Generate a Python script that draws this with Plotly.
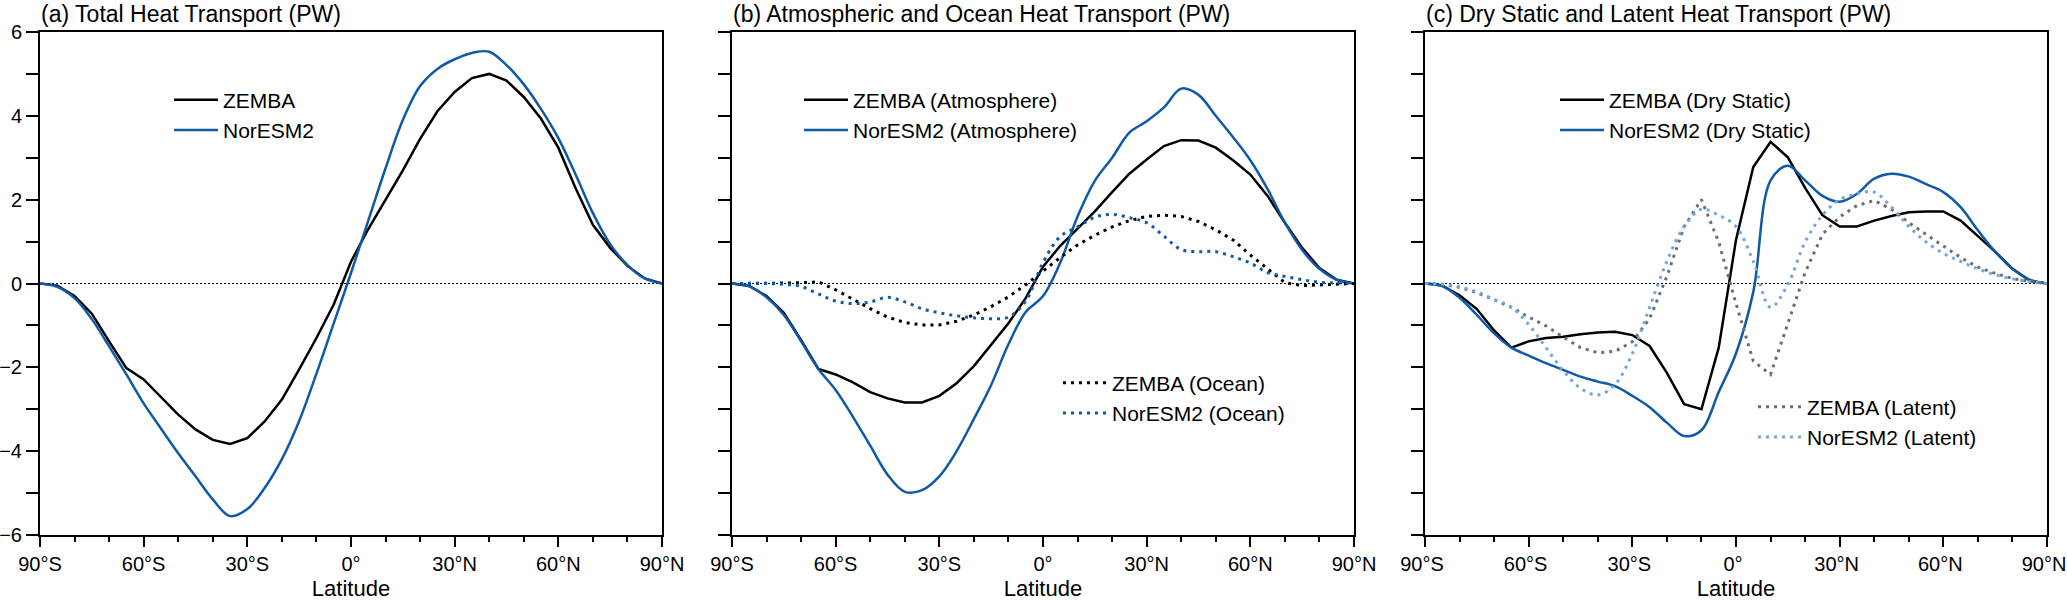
import plotly.graph_objects as go

# Latitude grid (5 degree) and tick labels
lat = list(range(-90, 95, 5))
lat_ticks = [-90, -60, -30, 0, 30, 60, 90]
lat_labels = ["90°S", "60°S", "30°S", "0°", "30°N", "60°N", "90°N"]

# (a) total heat transport (PW)
zemba_total = [0, -0.05, -0.3, -0.72, -1.38, -2.02, -2.29, -2.72, -3.13, -3.48, -3.73, -3.83,
               -3.69, -3.29, -2.77, -2.05, -1.3, -0.5, 0.52, 1.3, 2.0, 2.7, 3.45, 4.11, 4.57,
               4.9, 5.0, 4.84, 4.45, 3.93, 3.24, 2.27, 1.4, 0.85, 0.42, 0.12, 0]
noresm_total = [0, -0.08, -0.35, -0.85, -1.5, -2.17, -2.86, -3.46, -4.05, -4.6, -5.15, -5.55,
                -5.38, -4.88, -4.19, -3.28, -2.15, -0.95, 0.25, 1.5, 2.75, 3.9, 4.71, 5.12, 5.35,
                5.5, 5.53, 5.21, 4.75, 4.16, 3.47, 2.6, 1.68, 0.94, 0.44, 0.12, 0]

# (b) atmosphere and ocean (PW)
zemba_atm = [0, -0.06, -0.3, -0.7, -1.35, -2.04, -2.17, -2.36, -2.59, -2.74, -2.84, -2.84,
             -2.68, -2.38, -1.97, -1.45, -0.95, -0.35, 0.4, 0.9, 1.3, 1.72, 2.18, 2.62, 2.96,
             3.28, 3.42, 3.41, 3.24, 2.94, 2.6, 2.09, 1.45, 0.85, 0.37, 0.09, 0]
noresm_atm = [0, -0.07, -0.33, -0.75, -1.38, -2.04, -2.54, -3.18, -3.87, -4.56, -4.97, -4.93,
              -4.6, -4.0, -3.23, -2.42, -1.45, -0.68, -0.3, 0.5, 1.6, 2.45, 3.0, 3.6, 3.87,
              4.2, 4.65, 4.5, 4.0, 3.49, 2.94, 2.25, 1.45, 0.8, 0.35, 0.09, 0]
zemba_ocean = [0, 0, 0, 0.01, 0.02, 0.04, -0.15, -0.38, -0.6, -0.8, -0.93, -0.99,
               -0.99, -0.9, -0.75, -0.55, -0.32, -0.03, 0.3, 0.62, 0.92, 1.15, 1.35, 1.5, 1.6,
               1.63, 1.6, 1.48, 1.28, 1.04, 0.68, 0.35, 0.02, -0.05, -0.03, -0.01, 0]
noresm_ocean = [0, 0, 0, -0.02, -0.07, -0.25, -0.42, -0.48, -0.44, -0.33, -0.44, -0.6,
                -0.7, -0.77, -0.82, -0.84, -0.8, -0.42, 0.5, 1.12, 1.35, 1.58, 1.65, 1.57, 1.45,
                1.13, 0.81, 0.76, 0.76, 0.64, 0.49, 0.26, 0.17, 0.09, 0.03, 0.01, 0]

# (c) dry static and latent (PW)
zemba_dry = [0, -0.05, -0.28, -0.61, -1.12, -1.53, -1.38, -1.3, -1.27, -1.21, -1.17, -1.15,
             -1.23, -1.49, -2.13, -2.88, -3.0, -1.53, 1.04, 2.78, 3.38, 3.01, 2.28, 1.63, 1.36,
             1.36, 1.5, 1.61, 1.7, 1.72, 1.72, 1.5, 1.13, 0.76, 0.35, 0.07, 0]
noresm_dry = [0, -0.06, -0.34, -0.75, -1.19, -1.53, -1.72, -1.9, -2.06, -2.22, -2.34, -2.45,
              -2.68, -2.95, -3.32, -3.64, -3.5, -2.59, -1.67, -0.2, 2.46, 2.81, 2.46, 2.09, 1.95,
              2.14, 2.5, 2.62, 2.55, 2.37, 2.18, 1.82, 1.27, 0.76, 0.35, 0.09, 0]
zemba_latent = [0, -0.02, -0.09, -0.22, -0.39, -0.57, -0.8, -1.01, -1.28, -1.53, -1.65, -1.62,
                -1.39, -0.84, 0.17, 1.36, 2.0, 0.99, -0.48, -1.85, -2.17, -0.94, 0.26, 1.17, 1.59,
                1.86, 1.98, 1.77, 1.45, 1.17, 0.9, 0.62, 0.39, 0.24, 0.12, 0.05, 0]
noresm_latent = [0, -0.02, -0.08, -0.2, -0.38, -0.57, -0.98, -1.53, -2.08, -2.5, -2.66, -2.41,
                 -1.67, -0.57, 0.53, 1.36, 1.77, 1.63, 1.36, 0.53, -0.57, -0.02, 0.99, 1.63, 2.0,
                 2.14, 2.18, 1.82, 1.36, 0.99, 0.72, 0.53, 0.35, 0.21, 0.11, 0.05, 0]

W, H = 2067, 601
TOP, BOTTOM = 32, 535          # pixel rows of the plot area
FONT = "Liberation Sans, Arial, Helvetica, sans-serif"
BLACK = "#000000"
BLUE = "#0f5aa6"
GRAY = "#6e6e6e"
LIGHTBLUE = "#72a7d9"
DOTS = "3px,5px"

# panel left/right edges in pixels
panels = [(40, 662), (732, 1354), (1425, 2047)]
titles = ["(a) Total Heat Transport (PW)",
          "(b) Atmospheric and Ocean Heat Transport (PW)",
          "(c) Dry Static and Latent Heat Transport (PW)"]

fig = go.Figure()


def add_line(y, name, color, axis, legend, dash="solid", spline=False, width=2.5):
    fig.add_trace(go.Scatter(
        x=lat, y=y, name=name, mode="lines",
        line=dict(color=color, width=width, dash=dash,
                  shape="spline" if spline else "linear"),
        xaxis="x" + axis, yaxis="y" + axis, legend=legend,
    ))


# panel a
add_line(zemba_total, "ZEMBA", BLACK, "", "legend")
add_line(noresm_total, "NorESM2", BLUE, "", "legend", spline=True)
# panel b
add_line(zemba_atm, "ZEMBA (Atmosphere)", BLACK, "2", "legend2")
add_line(noresm_atm, "NorESM2 (Atmosphere)", BLUE, "2", "legend2", spline=True)
add_line(zemba_ocean, "ZEMBA (Ocean)", BLACK, "2", "legend3", dash=DOTS, width=3)
add_line(noresm_ocean, "NorESM2 (Ocean)", BLUE, "2", "legend3", dash=DOTS, spline=True, width=3)
# panel c
add_line(zemba_dry, "ZEMBA (Dry Static)", BLACK, "3", "legend4")
add_line(noresm_dry, "NorESM2 (Dry Static)", BLUE, "3", "legend4", spline=True)
add_line(zemba_latent, "ZEMBA (Latent)", GRAY, "3", "legend5", dash=DOTS, width=3)
add_line(noresm_latent, "NorESM2 (Latent)", LIGHTBLUE, "3", "legend5", dash=DOTS, spline=True, width=3)

layout = dict(
    width=W, height=H,
    margin=dict(l=0, r=0, t=TOP, b=H - BOTTOM, autoexpand=False),
    paper_bgcolor="white", plot_bgcolor="white",
    font=dict(family=FONT, size=20, color="black"),
    showlegend=True,
)

for i, (left, right) in enumerate(panels):
    sfx = "" if i == 0 else str(i + 1)
    layout["xaxis" + sfx] = dict(
        domain=[left / W, right / W], anchor="y" + sfx, automargin=False,
        range=[-90, 90], tickmode="array", tickvals=lat_ticks, ticktext=lat_labels,
        ticks="outside", ticklen=10, tickwidth=2, tickcolor="black",
        showline=True, linecolor="black", linewidth=2, mirror=True,
        showgrid=False, zeroline=False, tickfont=dict(size=20),
        ticklabeloverflow="allow",
        # last panel: nudge labels so "90°N" stays inside the page
        ticklabelshift=-3 if i == 2 else 0,
        title=dict(text="Latitude", font=dict(size=22), standoff=10),
        minor=dict(tickmode="linear", tick0=-90, dtick=10, ticks="outside",
                   ticklen=5, tickwidth=2, tickcolor="black", showgrid=False),
    )
    layout["yaxis" + sfx] = dict(
        domain=[0, 1], anchor="x" + sfx, automargin=False,
        range=[-6, 6], tickmode="linear", tick0=0, dtick=2,
        ticks="outside", ticklen=12, tickwidth=2, tickcolor="black",
        showline=True, linecolor="black", linewidth=2, mirror=True,
        showgrid=False, zeroline=False, showticklabels=(i == 0),
        tickfont=dict(size=20), ticklabeloverflow="allow",
        minor=dict(dtick=1, ticks="outside", ticklen=12, tickwidth=2,
                   tickcolor="black", showgrid=False),
    )

# legends: (line start px, centre row px)
legend_pos = {"legend": (174, 115), "legend2": (804, 115), "legend3": (1063, 398),
              "legend4": (1560, 115), "legend5": (1758, 422)}
for key, (xpx, ypx) in legend_pos.items():
    layout[key] = dict(
        x=(xpx - 5) / W, xanchor="left",
        y=(BOTTOM - ypx) / (BOTTOM - TOP), yanchor="middle",
        bgcolor="rgba(0,0,0,0)", borderwidth=0, itemwidth=44,
        font=dict(family=FONT, size=21, color="black"),
        tracegroupgap=0,
    )

fig.update_layout(**layout)

# zero reference lines and panel titles
for i, (left, right) in enumerate(panels):
    sfx = "" if i == 0 else str(i + 1)
    fig.add_shape(type="line", xref="x" + sfx + " domain", yref="y" + sfx,
                  x0=0, x1=1, y0=0, y1=0, layer="below",
                  line=dict(color="#000000", width=1, dash="2px,2px"))
    fig.add_annotation(text=titles[i], xref="paper", yref="paper",
                       x=left / W, y=BOTTOM / (BOTTOM - TOP), xanchor="left", yanchor="top",
                       borderpad=0, showarrow=False, font=dict(size=23, family=FONT))

# page body has a default 8px margin; drop it so the figure fills the window
fig.write_html("out.html", config={"displayModeBar": False},
               post_script="document.body.style.margin='0px';")
